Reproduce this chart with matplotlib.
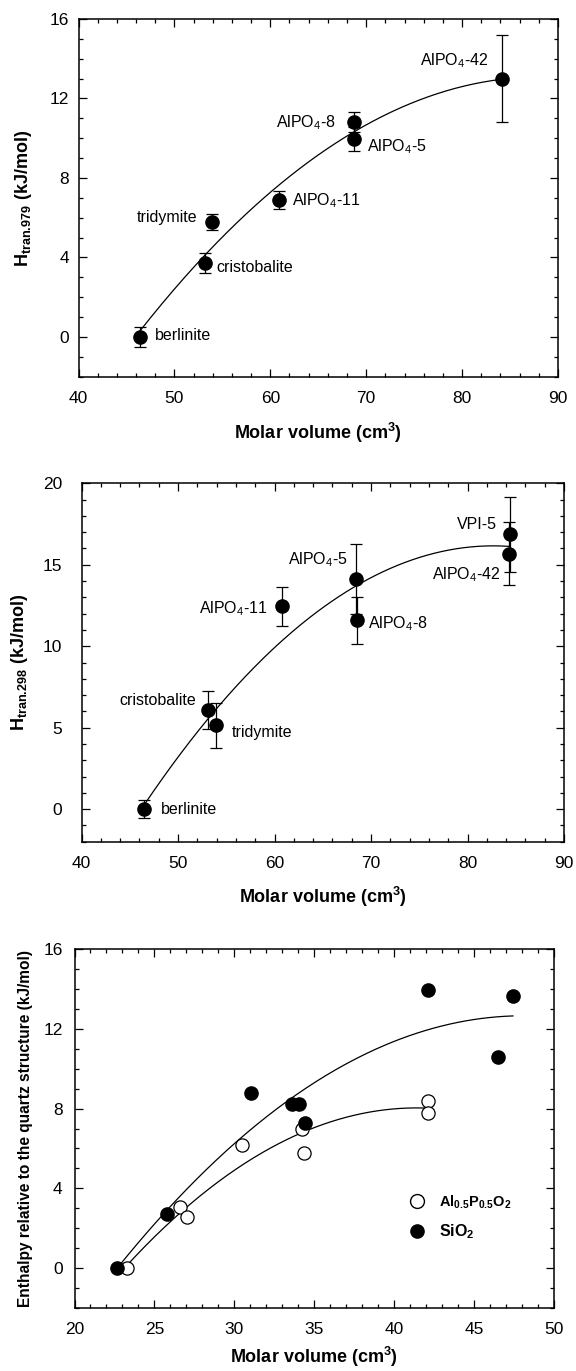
import numpy as np
import matplotlib
matplotlib.use('Agg')
import matplotlib.pyplot as plt
from matplotlib.ticker import MultipleLocator
from matplotlib.lines import Line2D

plt.rcParams['font.family'] = ['Liberation Sans', 'DejaVu Sans']
plt.rcParams['mathtext.fontset'] = 'custom'
plt.rcParams['mathtext.rm'] = 'Liberation Sans'
plt.rcParams['mathtext.bf'] = 'Liberation Sans:bold'
plt.rcParams['mathtext.it'] = 'Liberation Sans:italic'

# panel 1 : H tran,979 vs molar volume
p1_names = ['berlinite', 'cristobalite', 'tridymite', 'AlPO$_4$-11',
            'AlPO$_4$-8', 'AlPO$_4$-5', 'AlPO$_4$-42']
p1_vol = [46.4, 53.2, 53.9, 60.9, 68.7, 68.7, 84.2]
p1_h = [0.0, 3.7, 5.8, 6.9, 10.8, 9.95, 13.0]
p1_err = [0.5, 0.5, 0.4, 0.45, 0.5, 0.6, 2.2]
p1_lab_x = [48.0, 54.4, 52.4, 62.3, 66.8, 70.1, 82.7]
p1_lab_y = [0.05, 3.5, 6.0, 6.85, 10.8, 9.6, 13.9]
p1_lab_ha = ['left', 'left', 'right', 'left', 'right', 'left', 'right']

# panel 2 : H tran,298 vs molar volume
p2_names = ['berlinite', 'cristobalite', 'tridymite', 'AlPO$_4$-11',
            'AlPO$_4$-5', 'AlPO$_4$-8', 'VPI-5', 'AlPO$_4$-42']
p2_vol = [46.5, 53.1, 53.95, 60.8, 68.4, 68.55, 84.37, 84.25]
p2_h = [0.0, 6.1, 5.15, 12.45, 14.1, 11.6, 16.87, 15.69]
p2_err = [0.55, 1.18, 1.37, 1.2, 2.15, 1.45, 2.29, 1.93]
p2_lab_x = [48.2, 51.9, 55.6, 59.3, 67.6, 69.7, 83.0, 83.4]
p2_lab_y = [0.0, 6.65, 4.7, 12.3, 15.3, 11.4, 17.5, 14.4]
p2_lab_ha = ['left', 'right', 'left', 'right', 'right', 'left', 'right', 'right']

# panel 3 : enthalpy relative to quartz
alp_vol = [23.3, 26.6, 27.05, 30.49, 34.26, 34.34, 42.14, 42.14]
alp_h = [0.0, 3.07, 2.58, 6.19, 6.98, 5.79, 8.40, 7.80]
sio_vol = [22.68, 25.76, 31.07, 33.6, 34.03, 34.4, 42.14, 46.49, 47.43]
sio_h = [0.0, 2.69, 8.77, 8.23, 8.23, 7.26, 13.96, 10.58, 13.66]

W, H = 576, 1371
fig = plt.figure(figsize=(W / 100, H / 100), dpi=100)


def add_ax(l, r, t, b):
    return fig.add_axes([l / W, 1 - b / H, (r - l) / W, (b - t) / H])


def style(ax, xmaj, xmin, ymaj, ymin, ypad):
    ax.xaxis.set_major_locator(MultipleLocator(xmaj))
    ax.xaxis.set_minor_locator(MultipleLocator(xmin))
    ax.yaxis.set_major_locator(MultipleLocator(ymaj))
    ax.yaxis.set_minor_locator(MultipleLocator(ymin))
    ax.tick_params(which='both', direction='in', top=True, right=True,
                   width=0.9, labelsize=12.5)
    ax.tick_params(which='major', length=5.5)
    ax.tick_params(which='minor', length=3)
    ax.tick_params(axis='x', pad=10)
    ax.tick_params(axis='y', pad=ypad)
    for s in ax.spines.values():
        s.set_linewidth(1.1)


def fit_curve(ax, x, y):
    c = np.polyfit(x, y, 2)
    xx = np.linspace(min(x), max(x), 200)
    ax.plot(xx, np.polyval(c, xx), color='black', lw=0.9, zorder=2)


def ylab(ax, text, xc, size=13):
    ax.set_ylabel(text, fontsize=size, fontweight='bold')
    ax.yaxis.set_label_coords(xc, 0.5)
    ax.yaxis.label.set_va('center')


def xlab(ax, yc):
    ax.set_xlabel('Molar volume (cm$^{\\mathbf{3}}$)', fontsize=13, fontweight='bold')
    ax.xaxis.set_label_coords(0.5, yc)
    ax.xaxis.label.set_va('center')


# ---- panel 1
ax1 = add_ax(78.5, 558, 19, 376.7)
ax1.set_xlim(40, 90)
ax1.set_ylim(-2, 16)
style(ax1, 10, 2, 4, 1, 7)
fit_curve(ax1, p1_vol, p1_h)
ax1.errorbar(p1_vol, p1_h, yerr=p1_err, fmt='o', color='black', ms=9.5,
             elinewidth=0.9, capsize=4.5, capthick=0.9, zorder=3)
for n, x, y, ha in zip(p1_names, p1_lab_x, p1_lab_y, p1_lab_ha):
    ax1.text(x, y, n, ha=ha, va='center', fontsize=11.5)
ylab(ax1, 'H$_{\\mathbf{tran.\\!979}}$ (kJ/mol)', -0.115)
xlab(ax1, -0.157)

# ---- panel 2
ax2 = add_ax(81.5, 564, 483.3, 841.7)
ax2.set_xlim(40, 90)
ax2.set_ylim(-2, 20)
style(ax2, 10, 2, 5, 1, 14)
fit_curve(ax2, p2_vol, p2_h)
ax2.errorbar(p2_vol, p2_h, yerr=p2_err, fmt='o', color='black', ms=9.5,
             elinewidth=0.9, capsize=4.5, capthick=0.9, zorder=3)
for n, x, y, ha in zip(p2_names, p2_lab_x, p2_lab_y, p2_lab_ha):
    ax2.text(x, y, n, ha=ha, va='center', fontsize=11.5)
ylab(ax2, 'H$_{\\mathbf{tran.\\!298}}$ (kJ/mol)', -0.128)
xlab(ax2, -0.154)

# ---- panel 3
ax3 = add_ax(74.5, 554, 949.3, 1307.7)
ax3.set_xlim(20, 50)
ax3.set_ylim(-2, 16)
style(ax3, 5, 1, 4, 1, 8.5)
fit_curve(ax3, sio_vol, sio_h)
fit_curve(ax3, alp_vol, alp_h)
ax3.plot(alp_vol, alp_h, 'o', ms=9.5, mfc='white', mec='black', mew=0.9, zorder=3)
ax3.plot(sio_vol, sio_h, 'o', ms=9.5, color='black', zorder=4)
handles = [Line2D([], [], ls='none', marker='o', ms=10, mfc='white', mec='black', mew=1.0),
           Line2D([], [], ls='none', marker='o', ms=9.5, color='black')]
leg = ax3.legend(handles, ['$\\mathbf{Al_{0.5}P_{0.5}O_2}$', '$\\mathbf{SiO_2}$'],
                 loc='center left', bbox_to_anchor=(0.652, 0.252), frameon=False,
                 fontsize=11.5, handletextpad=0.35, labelspacing=0.75, numpoints=1)
leg.get_texts()[0].set_fontsize(10.5)
ylab(ax3, 'Enthalpy relative to the quartz structure (kJ/mol)', -0.103, size=11.2)
xlab(ax3, -0.1376)

fig.savefig('out.png', dpi=100)
